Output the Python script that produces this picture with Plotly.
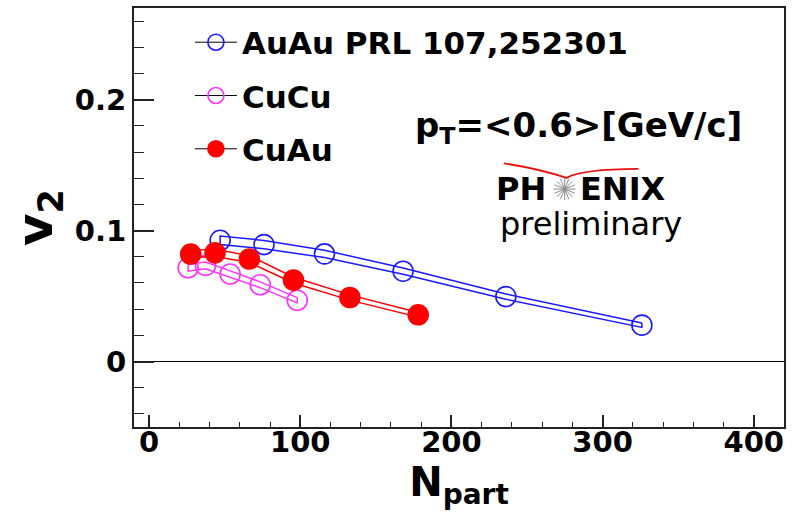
import math
import plotly.graph_objects as go

# --- data: elliptic flow v2 vs number of participants ---
npart_auau = [326, 236, 168, 116, 76, 47]
v2_auau = [0.0278, 0.0496, 0.0690, 0.0822, 0.0893, 0.0926]
sys_auau = [0.0017, 0.0020, 0.0024, 0.0028, 0.0032, 0.0033]

npart_cucu = [98, 73.5, 53.6, 37.3, 25.8]
v2_cucu = [0.0468, 0.0586, 0.0668, 0.0734, 0.0716]
sys_cucu = [0.0020, 0.0022, 0.0024, 0.0026, 0.0026]

npart_cuau = [178, 132.8, 95.5, 66.3, 43.6, 27.5]
v2_cuau = [0.0357, 0.0489, 0.0622, 0.0783, 0.0830, 0.0821]
sys_cuau = [0.0018, 0.0020, 0.0022, 0.0026, 0.0028, 0.0028]

series = [
    ("AuAu PRL 107,252301", npart_auau, v2_auau, sys_auau, "#1a1aff", "circle-open"),
    ("CuCu", npart_cucu, v2_cucu, sys_cucu, "#ff33ff", "circle-open"),
    ("CuAu", npart_cuau, v2_cuau, sys_cuau, "#ff0000", "circle"),
]

x_ticks = [0, 100, 200, 300, 400]
y_ticks = [0, 0.1, 0.2]

FONT = "DejaVu Sans"

fig = go.Figure()

for i, (name, xs, ys, es, color, sym) in enumerate(series):
    upper = [y + e for y, e in zip(ys, es)]
    lower = [y - e for y, e in zip(ys, es)]
    # systematic band outline
    fig.add_trace(go.Scatter(
        x=list(xs) + list(xs)[::-1] + [xs[0]],
        y=upper + lower[::-1] + [upper[0]],
        mode="lines", line=dict(color=color, width=1.5),
        hoverinfo="skip", showlegend=False,
    ))
    # points
    fig.add_trace(go.Scatter(
        x=xs, y=ys, mode="markers",
        marker=dict(symbol=sym, size=20, color=color, line=dict(color=color, width=1.6)),
        showlegend=False,
    ))
    # legend entry
    fig.add_trace(go.Scatter(
        x=[None], y=[None], mode="lines+markers", name=name,
        legendgroup=f"g{i}",
        line=dict(color="black", width=1),
        marker=dict(symbol=sym, size=20, color=color, line=dict(color=color, width=1.6)),
    ))

W, H = 792, 513
ML, MR, MT, MB = 134, 6, 7, 86
PW, PH = W - ML - MR, H - MT - MB


def px(x, y):
    """pixel position -> paper coordinates"""
    return (x - ML) / PW, (H - MB - y) / PH


def label(x, y, text, size, anchor="center", bold=True):
    xa, ya = px(x, y)
    return dict(x=xa, y=ya, xref="paper", yref="paper", showarrow=False,
                xanchor=anchor, yanchor="middle", text=text,
                font=dict(family=FONT, size=size, weight="bold" if bold else "normal",
                          color="black"))


annotations = [
    label(580, 127, "p<sub>T</sub>=&lt;0.6&gt;[GeV/c]", 34),
    label(549, 188, "PH", 32, anchor="right"),
    label(579, 188, "ENIX", 32, anchor="left"),
    label(592, 224, "preliminary", 32, bold=False),
]

shapes = []
# red arc of the logo
pts = [(505, 162.7), (540, 168), (568, 177.3), (583, 168.5), (640, 168.3)]
p = [px(*q) for q in pts]
path = (f"M{p[0][0]},{p[0][1]} Q{p[1][0]},{p[1][1]} {p[2][0]},{p[2][1]} "
        f"Q{p[3][0]},{p[3][1]} {p[4][0]},{p[4][1]}")
shapes.append(dict(type="path", xref="paper", yref="paper", path=path,
                   line=dict(color="#e81010", width=1.8)))
# starburst of the logo
cx, cy, r = 566, 188.5, 11
for k in range(8):
    a = math.pi * k / 8
    x0, y0 = px(cx - r * math.cos(a), cy - r * math.sin(a))
    x1, y1 = px(cx + r * math.cos(a), cy + r * math.sin(a))
    shapes.append(dict(type="line", xref="paper", yref="paper", x0=x0, y0=y0, x1=x1, y1=y1,
                       line=dict(color="#8a8a8a", width=1)))

tickfont = dict(family=FONT, size=29, weight="bold", color="black")

fig.update_layout(
    width=W, height=H,
    margin=dict(l=ML, r=MR, t=MT, b=MB),
    paper_bgcolor="white", plot_bgcolor="white",
    showlegend=True,
    legend=dict(x=0.086, y=0.982, xanchor="left", yanchor="top",
                bgcolor="rgba(0,0,0,0)", tracegroupgap=10, itemwidth=42,
                font=dict(family=FONT, size=31, weight="bold", color="black")),
    annotations=annotations,
    shapes=shapes,
    xaxis=dict(range=[-10, 420], tickvals=x_ticks, ticks="inside", ticklen=12,
               tickwidth=1.5, tickcolor="#222", showgrid=False, zeroline=False,
               showline=True, linewidth=2, linecolor="#222", mirror=True,
               minor=dict(dtick=20, tick0=0, ticks="inside", ticklen=5,
                          tickwidth=1.2, tickcolor="#222", showgrid=False),
               tickfont=tickfont, ticklabelstandoff=-12,
               title=dict(text="N<sub>part</sub>", standoff=6,
                          font=dict(family=FONT, size=40, weight="bold", color="black"))),
    yaxis=dict(range=[-0.05, 0.27], tickvals=y_ticks, ticks="inside", ticklen=20,
               tickwidth=1.5, tickcolor="#222", showgrid=False,
               zeroline=True, zerolinecolor="black", zerolinewidth=1,
               showline=True, linewidth=2, linecolor="#222", mirror=True,
               minor=dict(dtick=0.02, tick0=0, ticks="inside", ticklen=10,
                          tickwidth=1.2, tickcolor="#222", showgrid=False),
               tickfont=tickfont,
               title=dict(text="v<sub>2</sub>", standoff=6,
                          font=dict(family=FONT, size=50, weight="bold", color="black"))),
)

fig.write_html("out.html")
